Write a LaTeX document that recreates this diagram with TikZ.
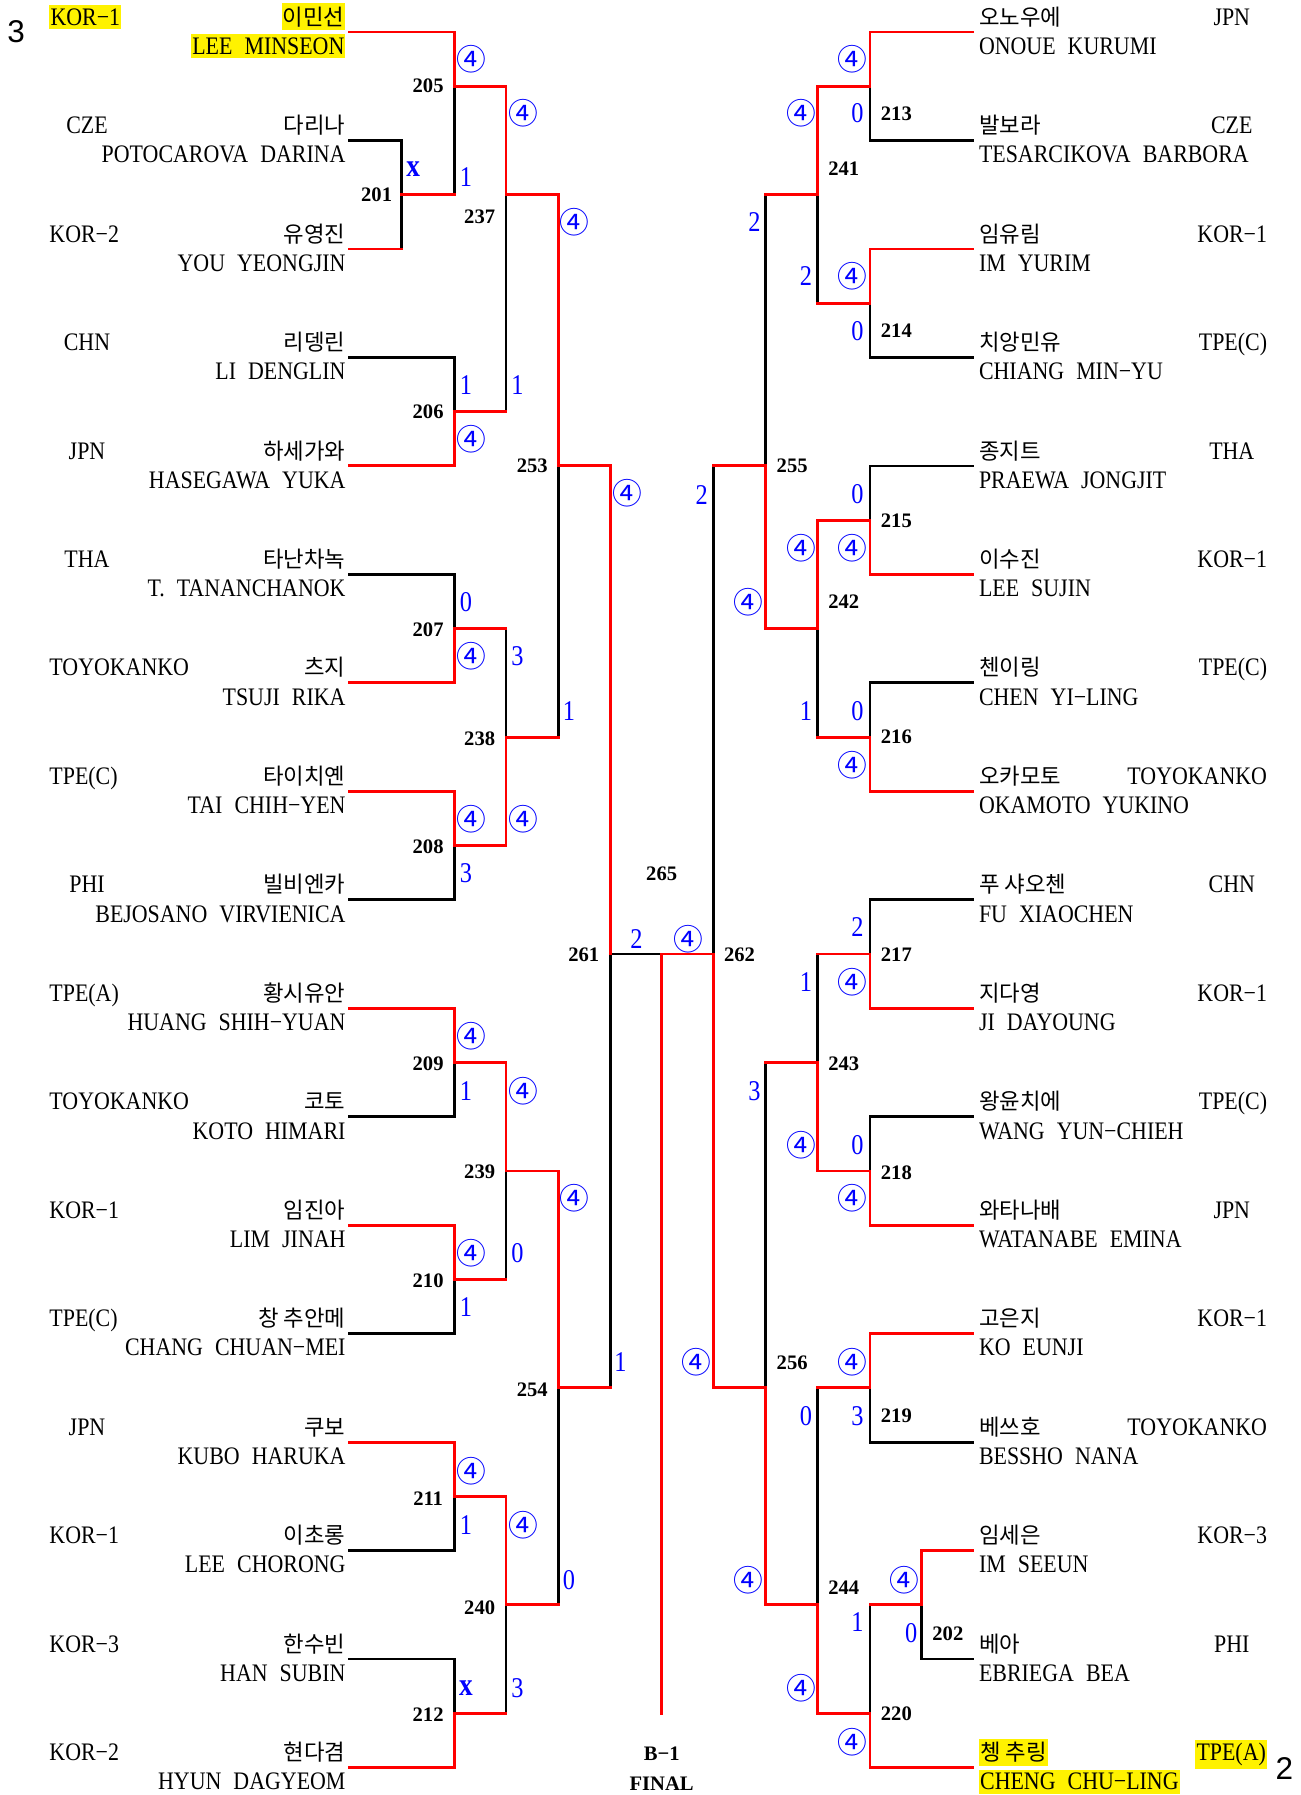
\documentclass[tikz,border=0pt]{standalone}
\usepackage{fontspec}
\setmainfont{Liberation Serif}
\newfontfamily\nmfont[FakeStretch=0.87,WordSpace=2.2]{Liberation Serif}
\newfontfamily\krfont{Noto Sans CJK KR}
\newfontfamily\scorefont[FakeStretch=0.85]{Liberation Serif}
\newfontfamily\sansfnt{Liberation Sans}
\pgfdeclarelayer{bg}
\pgfsetlayers{bg,main}
\tikzset{
 redln/.style={draw=red,line width=2.5pt,line cap=rect},
 blkln/.style={draw=black,line width=2.4pt,line cap=rect},
 kl/.style={font=\krfont\fontsize{19.5}{19.5}\selectfont,anchor=base east,inner sep=0pt},
 kr/.style={font=\krfont\fontsize{19.5}{19.5}\selectfont,anchor=base west,inner sep=0pt},
 el/.style={font=\nmfont\fontsize{22}{22}\selectfont,anchor=base east,inner sep=0pt},
 er/.style={font=\nmfont\fontsize{22}{22}\selectfont,anchor=base west,inner sep=0pt},
 cw/.style={font=\nmfont\fontsize{22}{22}\selectfont,anchor=base west,inner sep=0pt},
 cc/.style={font=\nmfont\fontsize{22}{22}\selectfont,anchor=base,inner sep=0pt},
 ce/.style={font=\nmfont\fontsize{22}{22}\selectfont,anchor=base east,inner sep=0pt},
 hl/.style={fill=yellow,inner xsep=1pt,inner ysep=3pt},
 c4/.style={font=\krfont\fontsize{26}{26}\selectfont,text=blue,inner sep=0pt},
 dg/.style={font=\scorefont\fontsize{25}{25}\selectfont,text=blue,inner sep=0pt},
 xs/.style={font=\scorefont\bfseries\fontsize{28}{28}\selectfont,text=blue,inner sep=0pt},
 ml/.style={font=\bfseries\fontsize{18}{18}\selectfont,inner sep=0pt},
}
\newcommand\sg[3]{\ifnum#1=1\relax\draw[redln] (#2) -- (#3);\else\begin{pgfonlayer}{bg}\draw[blkln] (#2) -- (#3);\end{pgfonlayer}\fi}
\newcommand\lk[4]{\coordinate (lkc) at (#1 -| #2);\sg{#3}{#1}{lkc}\sg{#4}{lkc}{#2}}
\begin{document}
\begin{tikzpicture}[x=1pt,y=-1pt]
\useasboundingbox (0,0) rectangle (1136,1568);
\begin{pgfonlayer}{bg}\fill[white] (0,0) rectangle (1136,1568);\end{pgfonlayer}
% player line starts
\coordinate (L1) at (305,28);      \coordinate (R1) at (850,28);
\coordinate (L2) at (305,122.75);  \coordinate (R2) at (850,122.75);
\coordinate (L3) at (305,217.5);   \coordinate (R3) at (850,217.5);
\coordinate (L4) at (305,312.25);  \coordinate (R4) at (850,312.25);
\coordinate (L5) at (305,407);     \coordinate (R5) at (850,407);
\coordinate (L6) at (305,501.75);  \coordinate (R6) at (850,501.75);
\coordinate (L7) at (305,596.5);   \coordinate (R7) at (850,596.5);
\coordinate (L8) at (305,691.25);  \coordinate (R8) at (850,691.25);
\coordinate (L9) at (305,786);     \coordinate (R9) at (850,786);
\coordinate (L10) at (305,880.75); \coordinate (R10) at (850,880.75);
\coordinate (L11) at (305,975.5);  \coordinate (R11) at (850,975.5);
\coordinate (L12) at (305,1070.25);\coordinate (R12) at (850,1070.25);
\coordinate (L13) at (305,1165);   \coordinate (R13) at (850,1165);
\coordinate (L14) at (305,1259.75);\coordinate (R14) at (850,1259.75);
\coordinate (L15) at (305,1354.5); \coordinate (R15) at (805,1354.5);
\coordinate (L16) at (305,1449.25);\coordinate (R16) at (805,1449.25);
\coordinate (L17) at (305,1544);   \coordinate (R17) at (850,1544);
\coordinate (R15e) at (850,1354.5);\coordinate (R16e) at (850,1449.25);
% match junctions, left
\coordinate (m201) at (351,170.125);
\coordinate (m205) at (397,75.375);
\coordinate (m206) at (397,359.625);
\coordinate (m207) at (397,549.125);
\coordinate (m208) at (397,738.625);
\coordinate (m209) at (397,928.125);
\coordinate (m210) at (397,1117.625);
\coordinate (m211) at (397,1307.125);
\coordinate (m212) at (397,1496.625);
\coordinate (m237) at (442,170.125);
\coordinate (m238) at (442,643.875);
\coordinate (m239) at (442,1022.875);
\coordinate (m240) at (442,1401.875);
\coordinate (m253) at (488,407);
\coordinate (m254) at (488,1212.375);
\coordinate (m261) at (533,833.375);
\coordinate (F) at (578,833.375);
\coordinate (fend) at (578,1496.625);
% right
\coordinate (m202) at (805,1401.875);
\coordinate (m213) at (760,75.375);
\coordinate (m214) at (760,264.875);
\coordinate (m215) at (760,454.375);
\coordinate (m216) at (760,643.875);
\coordinate (m217) at (760,833.375);
\coordinate (m218) at (760,1022.875);
\coordinate (m219) at (760,1212.375);
\coordinate (m220) at (760,1496.625);
\coordinate (m241) at (714,170.125);
\coordinate (m242) at (714,549.125);
\coordinate (m243) at (714,928.125);
\coordinate (m244) at (714,1401.875);
\coordinate (m255) at (669,407);
\coordinate (m256) at (669,1212.375);
\coordinate (m262) at (623,833.375);
% links left
\lk{L2}{m201}{0}{0}\lk{L3}{m201}{1}{0}
\lk{L1}{m205}{1}{1}\lk{m201}{m205}{1}{0}
\lk{L4}{m206}{0}{0}\lk{L5}{m206}{1}{1}
\lk{m205}{m237}{1}{1}\lk{m206}{m237}{1}{0}
\lk{L6}{m207}{0}{0}\lk{L7}{m207}{1}{1}
\lk{L8}{m208}{1}{1}\lk{L9}{m208}{0}{0}
\lk{m207}{m238}{1}{0}\lk{m208}{m238}{1}{1}
\lk{m237}{m253}{1}{1}\lk{m238}{m253}{1}{0}
\lk{m253}{m261}{1}{1}
\lk{L10}{m209}{1}{1}\lk{L11}{m209}{0}{0}
\lk{L12}{m210}{1}{1}\lk{L13}{m210}{0}{0}
\lk{m209}{m239}{1}{1}\lk{m210}{m239}{1}{0}
\lk{L14}{m211}{1}{1}\lk{L15}{m211}{0}{0}
\lk{L16}{m212}{0}{0}\lk{L17}{m212}{1}{1}
\lk{m211}{m240}{1}{1}\lk{m212}{m240}{1}{0}
\lk{m239}{m254}{1}{1}\lk{m240}{m254}{1}{0}
\lk{m254}{m261}{1}{0}
\sg{0}{m261}{F}\sg{1}{m262}{F}\sg{1}{F}{fend}
% links right
\lk{R1}{m213}{1}{1}\lk{R2}{m213}{0}{0}
\lk{R3}{m214}{1}{1}\lk{R4}{m214}{0}{0}
\lk{m213}{m241}{1}{1}\lk{m214}{m241}{1}{0}
\lk{R5}{m215}{0}{0}\lk{R6}{m215}{1}{1}
\lk{R7}{m216}{0}{0}\lk{R8}{m216}{1}{1}
\lk{m215}{m242}{1}{1}\lk{m216}{m242}{1}{0}
\lk{m241}{m255}{1}{0}\lk{m242}{m255}{1}{1}
\lk{m255}{m262}{1}{0}
\lk{R9}{m217}{0}{0}\lk{R10}{m217}{1}{1}
\lk{R11}{m218}{0}{0}\lk{R12}{m218}{1}{1}
\lk{m217}{m243}{1}{0}\lk{m218}{m243}{1}{1}
\lk{R13}{m219}{1}{1}\lk{R14}{m219}{0}{0}
\sg{1}{R15e}{R15}\sg{0}{R16e}{R16}
\lk{R15}{m202}{1}{1}\lk{R16}{m202}{0}{0}
\lk{m202}{m220}{1}{0}\lk{R17}{m220}{1}{1}
\lk{m219}{m244}{1}{0}\lk{m220}{m244}{1}{1}
\lk{m243}{m256}{1}{0}\lk{m244}{m256}{1}{1}
\lk{m256}{m262}{1}{1}
% left names
\node[cw,hl] (cL1) at (43,22) {KOR−1};
\node[kl,hl] (kL1) at (302,22) {이민선};
\node[el,hl] (eL1) at (302,47.5) {LEE MINSEON};
\node[cc] (cL2) at (76,116.75) {CZE};
\node[kl] (kL2) at (302,116.75) {다리나};
\node[el] (eL2) at (302,142.25) {POTOCAROVA DARINA};
\node[cw] (cL3) at (43,211.5) {KOR−2};
\node[kl] (kL3) at (302,211.5) {유영진};
\node[el] (eL3) at (302,237) {YOU YEONGJIN};
\node[cc] (cL4) at (76,306.25) {CHN};
\node[kl] (kL4) at (302,306.25) {리뎅린};
\node[el] (eL4) at (302,331.75) {LI DENGLIN};
\node[cc] (cL5) at (76,401) {JPN};
\node[kl] (kL5) at (302,401) {하세가와};
\node[el] (eL5) at (302,426.5) {HASEGAWA YUKA};
\node[cc] (cL6) at (76,495.75) {THA};
\node[kl] (kL6) at (302,495.75) {타난차녹};
\node[el] (eL6) at (302,521.25) {T. TANANCHANOK};
\node[cw] (cL7) at (43,590.5) {TOYOKANKO};
\node[kl] (kL7) at (302,590.5) {츠지};
\node[el] (eL7) at (302,616) {TSUJI RIKA};
\node[cw] (cL8) at (43,685.25) {TPE(C)};
\node[kl] (kL8) at (302,685.25) {타이치옌};
\node[el] (eL8) at (302,710.75) {TAI CHIH−YEN};
\node[cc] (cL9) at (76,780) {PHI};
\node[kl] (kL9) at (302,780) {빌비엔카};
\node[el] (eL9) at (302,805.5) {BEJOSANO VIRVIENICA};
\node[cw] (cL10) at (43,874.75) {TPE(A)};
\node[kl] (kL10) at (302,874.75) {황시유안};
\node[el] (eL10) at (302,900.25) {HUANG SHIH−YUAN};
\node[cw] (cL11) at (43,969.5) {TOYOKANKO};
\node[kl] (kL11) at (302,969.5) {코토};
\node[el] (eL11) at (302,995) {KOTO HIMARI};
\node[cw] (cL12) at (43,1064.25) {KOR−1};
\node[kl] (kL12) at (302,1064.25) {임진아};
\node[el] (eL12) at (302,1089.75) {LIM JINAH};
\node[cw] (cL13) at (43,1159) {TPE(C)};
\node[kl] (kL13) at (302,1159) {창 추안메};
\node[el] (eL13) at (302,1184.5) {CHANG CHUAN−MEI};
\node[cc] (cL14) at (76,1253.75) {JPN};
\node[kl] (kL14) at (302,1253.75) {쿠보};
\node[el] (eL14) at (302,1279.25) {KUBO HARUKA};
\node[cw] (cL15) at (43,1348.5) {KOR−1};
\node[kl] (kL15) at (302,1348.5) {이초롱};
\node[el] (eL15) at (302,1374) {LEE CHORONG};
\node[cw] (cL16) at (43,1443.25) {KOR−3};
\node[kl] (kL16) at (302,1443.25) {한수빈};
\node[el] (eL16) at (302,1468.75) {HAN SUBIN};
\node[cw] (cL17) at (43,1538) {KOR−2};
\node[kl] (kL17) at (302,1538) {현다겸};
\node[el] (eL17) at (302,1563.5) {HYUN DAGYEOM};
% right names
\node[kr] (kR1) at (855,22) {오노우에};
\node[er] (eR1) at (855,47.5) {ONOUE KURUMI};
\node[cc] (cR1) at (1076,22) {JPN};
\node[kr] (kR2) at (855,116.75) {발보라};
\node[er] (eR2) at (855,142.25) {TESARCIKOVA BARBORA};
\node[cc] (cR2) at (1076,116.75) {CZE};
\node[kr] (kR3) at (855,211.5) {임유림};
\node[er] (eR3) at (855,237) {IM YURIM};
\node[ce] (cR3) at (1107,211.5) {KOR−1};
\node[kr] (kR4) at (855,306.25) {치앙민유};
\node[er] (eR4) at (855,331.75) {CHIANG MIN−YU};
\node[ce] (cR4) at (1107,306.25) {TPE(C)};
\node[kr] (kR5) at (855,401) {종지트};
\node[er] (eR5) at (855,426.5) {PRAEWA JONGJIT};
\node[cc] (cR5) at (1076,401) {THA};
\node[kr] (kR6) at (855,495.75) {이수진};
\node[er] (eR6) at (855,521.25) {LEE SUJIN};
\node[ce] (cR6) at (1107,495.75) {KOR−1};
\node[kr] (kR7) at (855,590.5) {첸이링};
\node[er] (eR7) at (855,616) {CHEN YI−LING};
\node[ce] (cR7) at (1107,590.5) {TPE(C)};
\node[kr] (kR8) at (855,685.25) {오카모토};
\node[er] (eR8) at (855,710.75) {OKAMOTO YUKINO};
\node[ce] (cR8) at (1107,685.25) {TOYOKANKO};
\node[kr] (kR9) at (855,780) {푸 샤오첸};
\node[er] (eR9) at (855,805.5) {FU XIAOCHEN};
\node[cc] (cR9) at (1076,780) {CHN};
\node[kr] (kR10) at (855,874.75) {지다영};
\node[er] (eR10) at (855,900.25) {JI DAYOUNG};
\node[ce] (cR10) at (1107,874.75) {KOR−1};
\node[kr] (kR11) at (855,969.5) {왕윤치에};
\node[er] (eR11) at (855,995) {WANG YUN−CHIEH};
\node[ce] (cR11) at (1107,969.5) {TPE(C)};
\node[kr] (kR12) at (855,1064.25) {와타나배};
\node[er] (eR12) at (855,1089.75) {WATANABE EMINA};
\node[cc] (cR12) at (1076,1064.25) {JPN};
\node[kr] (kR13) at (855,1159) {고은지};
\node[er] (eR13) at (855,1184.5) {KO EUNJI};
\node[ce] (cR13) at (1107,1159) {KOR−1};
\node[kr] (kR14) at (855,1253.75) {베쓰호};
\node[er] (eR14) at (855,1279.25) {BESSHO NANA};
\node[ce] (cR14) at (1107,1253.75) {TOYOKANKO};
\node[kr] (kR15) at (855,1348.5) {임세은};
\node[er] (eR15) at (855,1374) {IM SEEUN};
\node[ce] (cR15) at (1107,1348.5) {KOR−3};
\node[kr] (kR16) at (855,1443.25) {베아};
\node[er] (eR16) at (855,1468.75) {EBRIEGA BEA};
\node[cc] (cR16) at (1076,1443.25) {PHI};
\node[kr,hl] (kR17) at (855,1538) {쳉 추링};
\node[er,hl] (eR17) at (855,1563.5) {CHENG CHU−LING};
\node[ce,hl] (cR17) at (1107,1538) {TPE(A)};
% match labels
\node[ml] (t205) at (374,75) {205};
\node[ml] (t201) at (329,170) {201};
\node[ml] (t237) at (419,189) {237};
\node[ml] (t206) at (374,360) {206};
\node[ml] (t253) at (465,407) {253};
\node[ml] (t207) at (374,550) {207};
\node[ml] (t238) at (419,645) {238};
\node[ml] (t208) at (374,740) {208};
\node[ml] (t261) at (510,834) {261};
\node[ml] (t209) at (374,929) {209};
\node[ml] (t239) at (419,1024) {239};
\node[ml] (t210) at (374,1119) {210};
\node[ml] (t254) at (465,1214) {254};
\node[ml] (t211) at (374,1309) {211};
\node[ml] (t240) at (419,1404) {240};
\node[ml] (t212) at (374,1498) {212};
\node[ml] (t213) at (783,99) {213};
\node[ml] (t241) at (737,147) {241};
\node[ml] (t214) at (783,289) {214};
\node[ml] (t255) at (692,407) {255};
\node[ml] (t215) at (783,455) {215};
\node[ml] (t242) at (737,526) {242};
\node[ml] (t216) at (783,644) {216};
\node[ml] (t262) at (646,834) {262};
\node[ml] (t217) at (783,834) {217};
\node[ml] (t243) at (737,929) {243};
\node[ml] (t218) at (783,1024) {218};
\node[ml] (t256) at (692,1190) {256};
\node[ml] (t219) at (783,1237) {219};
\node[ml] (t244) at (737,1387) {244};
\node[ml] (t202) at (828,1427) {202};
\node[ml] (t220) at (783,1497) {220};
\node[ml] (t265) at (578,763) {265};
\node[ml] (tb1) at (578,1532) {B−1};
\node[ml] (tfin) at (578,1558) {FINAL};
\node[font=\sansfnt\fontsize{27.5}{27.5}\selectfont,inner sep=0pt] (n3) at (14,28) {3};
\node[font=\sansfnt\fontsize{27.5}{27.5}\selectfont,inner sep=0pt] (n2) at (1122,1545) {2};
% scores left
\node[c4] (s1) at (412,52) {④};
\node[c4] (s2) at (457,99) {④};
\node[xs] (s3) at (361,148) {x};
\node[dg] (s4) at (407,155) {1};
\node[c4] (s5) at (502,194) {④};
\node[dg] (s6) at (407,336) {1};
\node[dg] (s7) at (452,336) {1};
\node[c4] (s8) at (412,384) {④};
\node[c4] (s9) at (548,431) {④};
\node[dg] (s10) at (407,526) {0};
\node[c4] (s11) at (412,573) {④};
\node[dg] (s12) at (452,573) {3};
\node[dg] (s13) at (497,621) {1};
\node[c4] (s14) at (412,716) {④};
\node[c4] (s15) at (457,716) {④};
\node[dg] (s16) at (407,763) {3};
\node[c4] (s17) at (412,905) {④};
\node[dg] (s18) at (407,953) {1};
\node[c4] (s19) at (457,953) {④};
\node[c4] (s20) at (502,1047) {④};
\node[c4] (s21) at (412,1095) {④};
\node[dg] (s22) at (452,1095) {0};
\node[dg] (s23) at (407,1142) {1};
\node[dg] (s24) at (542,1190) {1};
\node[c4] (s25) at (412,1285) {④};
\node[dg] (s26) at (407,1332) {1};
\node[c4] (s27) at (457,1332) {④};
\node[dg] (s28) at (497,1380) {0};
\node[xs] (s29) at (407,1475) {x};
\node[dg] (s30) at (452,1475) {3};
% centre
\node[dg] (s31) at (556,820) {2};
\node[c4] (s32) at (601,820) {④};
% scores right
\node[c4] (s33) at (745,52) {④};
\node[c4] (s34) at (700,99) {④};
\node[dg] (s35) at (749,99) {0};
\node[dg] (s36) at (659,194) {2};
\node[dg] (s37) at (704,241) {2};
\node[c4] (s38) at (745,241) {④};
\node[dg] (s39) at (749,289) {0};
\node[dg] (s40) at (749,432) {0};
\node[dg] (s41) at (613,432) {2};
\node[c4] (s42) at (700,479) {④};
\node[c4] (s43) at (745,479) {④};
\node[c4] (s44) at (654,526) {④};
\node[dg] (s45) at (704,621) {1};
\node[dg] (s46) at (749,621) {0};
\node[c4] (s47) at (745,668) {④};
\node[dg] (s48) at (749,810) {2};
\node[dg] (s49) at (704,858) {1};
\node[c4] (s50) at (745,858) {④};
\node[dg] (s51) at (659,953) {3};
\node[c4] (s52) at (700,1000) {④};
\node[dg] (s53) at (749,1000) {0};
\node[c4] (s54) at (745,1047) {④};
\node[c4] (s55) at (608,1190) {④};
\node[c4] (s56) at (745,1190) {④};
\node[dg] (s57) at (704,1237) {0};
\node[dg] (s58) at (749,1237) {3};
\node[c4] (s59) at (654,1380) {④};
\node[c4] (s60) at (790,1380) {④};
\node[dg] (s61) at (749,1417) {1};
\node[dg] (s62) at (796,1427) {0};
\node[c4] (s63) at (700,1475) {④};
\node[c4] (s64) at (745,1522) {④};
\end{tikzpicture}
\end{document}
